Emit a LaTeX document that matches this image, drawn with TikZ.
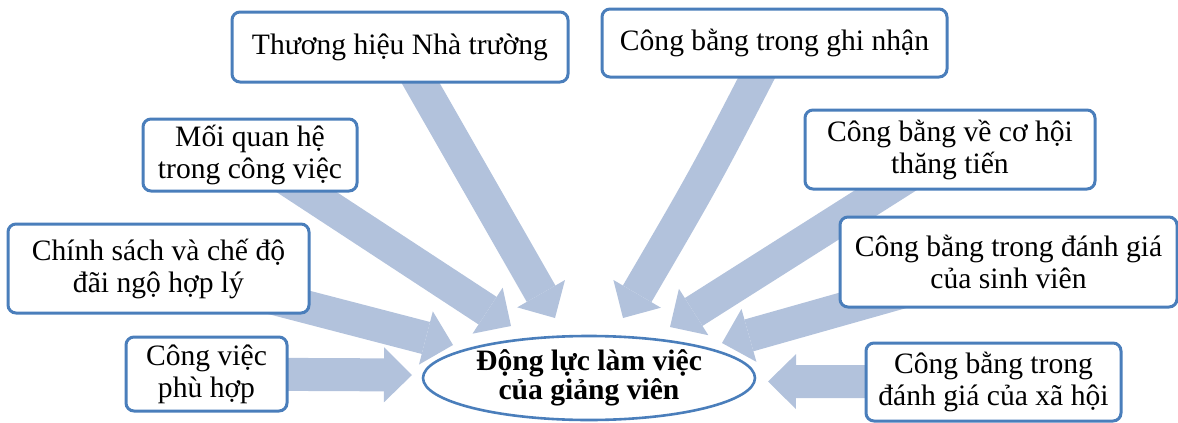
\documentclass[tikz,border=0pt]{standalone}
\usepackage{fontspec}
\setmainfont{Liberation Serif}
\usetikzlibrary{arrows.meta,shapes.geometric}
\definecolor{edgeblue}{RGB}{74,126,187}
\definecolor{arrowblue}{RGB}{178,194,220}
\pgfdeclarelayer{back}
\pgfsetlayers{back,main}
\begin{document}
\begin{tikzpicture}[x=0.5pt,y=-0.5pt,
  box/.style={draw=edgeblue, line width=1.5pt, rounded corners=4pt, fill=white,
    align=center, inner sep=0pt, font=\fontsize{14.8}{16}\selectfont},
  hub/.style={ellipse, draw=edgeblue, line width=1.3pt, fill=white, align=center,
    inner sep=0pt, font=\bfseries\fontsize{14.8}{13.5}\selectfont},
  flow/.style={draw=arrowblue, line width=16.5pt,
    -{Triangle[length=14pt,width=27.5pt,line width=0pt]}}]

\useasboundingbox (0,0) rectangle (1178,423);

% central factor
\node[hub, minimum width=166pt, minimum height=42pt] (hub) at (589,378)
  {Động lực làm việc\\của giảng viên};

% influencing factors
\node[box, minimum width=168pt, minimum height=35pt] (brand) at (400,47)
  {Thương hiệu Nhà trường};
\node[box, minimum width=172.5pt, minimum height=34pt] (recog) at (774.5,43)
  {Công bằng trong ghi nhận};
\node[box, minimum width=107pt, minimum height=36pt] (relat) at (250,155)
  {Mối quan hệ\\trong công việc};
\node[box, minimum width=145pt, minimum height=39.5pt] (promo) at (950,149.5)
  {Công bằng về cơ hội\\thăng tiến};
\node[box, minimum width=150.5pt, minimum height=44.5pt] (policy) at (158.5,268.5)
  {Chính sách và chế độ\\đãi ngộ hợp lý};
\node[box, minimum width=168.5pt, minimum height=45pt] (student) at (1008.5,262)
  {Công bằng trong đánh giá\\của sinh viên};
\node[box, minimum width=80.5pt, minimum height=37pt] (job) at (206.5,374)
  {Công việc\\phù hợp};
\node[box, minimum width=127.5pt, minimum height=39pt] (society) at (993.5,382)
  {Công bằng trong\\đánh giá của xã hội};

% arrow tips around the hub
\coordinate (tA) at (555,318);
\coordinate (tB) at (623,318);
\coordinate (tC) at (511,326);
\coordinate (tD) at (453,345);
\coordinate (tE) at (412,375);
\coordinate (tF) at (670,327);
\coordinate (tG) at (722,343);
\coordinate (tH) at (768,381.5);

\begin{pgfonlayer}{back}
  \draw[flow] (brand.center) -- (tA);
  \draw[flow] (recog.center) .. controls (706,176) .. (tB);
  \draw[flow] (relat.center) -- (tC);
  \draw[flow] (policy.center) -- (tD);
  \draw[flow] (job.center) -- (tE);
  \draw[flow] (promo.center) -- (tF);
  \draw[flow] (student.center) -- (tG);
  \draw[flow] (society.center) -- (tH);
\end{pgfonlayer}
\end{tikzpicture}
\end{document}
